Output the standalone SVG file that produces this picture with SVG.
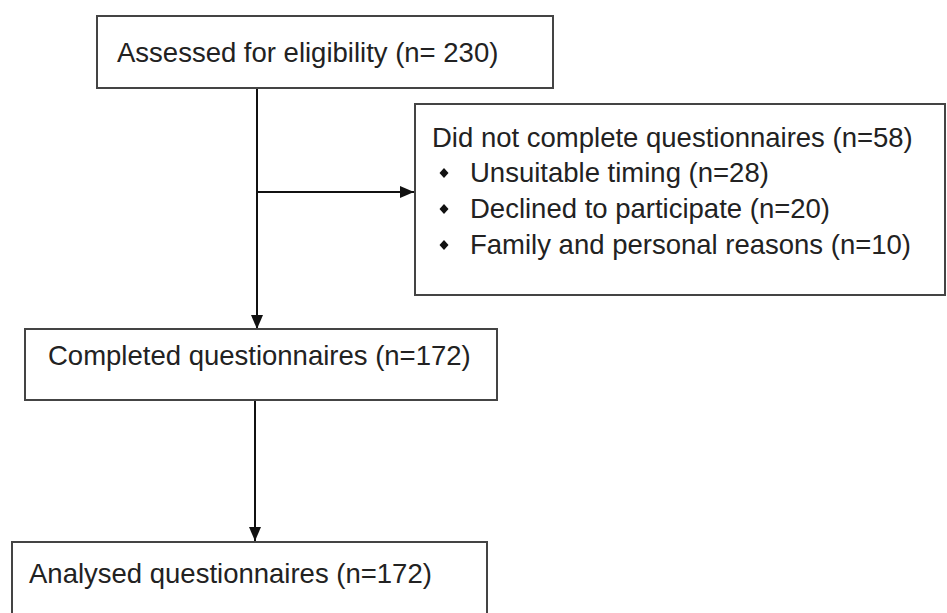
<svg xmlns="http://www.w3.org/2000/svg" width="947" height="613" viewBox="0 0 947 613">
<defs>
<style>
.box{fill:#fff;stroke:#444;stroke-width:2}
.t{font-family:"Liberation Sans",Arial,sans-serif;font-size:27.5px;fill:#222}
.c{stroke:#111;stroke-width:2;fill:none}
.b{fill:#111}
</style>
<marker id="ah" viewBox="0 0 14 12" refX="14" refY="6" markerWidth="14" markerHeight="12" markerUnits="userSpaceOnUse" orient="auto">
<path d="M0,0 L14,6 L0,12 Z" fill="#111"/>
</marker>
</defs>
<rect width="947" height="613" fill="#fff"/>
<g id="connectors">
<line class="c" x1="257" y1="88" x2="257" y2="329" marker-end="url(#ah)"/>
<line class="c" x1="257" y1="192" x2="414" y2="192" marker-end="url(#ah)"/>
<line class="c" x1="255" y1="401" x2="255" y2="541" marker-end="url(#ah)"/>
</g>
<g id="assessed">
<rect class="box" x="97" y="16" width="456" height="72"/>
<text class="t" x="117" y="62">Assessed for eligibility (n= 230)</text>
</g>
<g id="excluded">
<rect class="box" x="415" y="104" width="530" height="191"/>
<text class="t" x="432" y="147">Did not complete questionnaires (n=58)</text>
<path class="b" d="M439.5,173 l4.5,-5 l4.5,5 l-4.5,5 Z"/>
<text class="t" x="470" y="182">Unsuitable timing (n=28)</text>
<path class="b" d="M439.5,209 l4.5,-5 l4.5,5 l-4.5,5 Z"/>
<text class="t" x="470" y="218">Declined to participate (n=20)</text>
<path class="b" d="M439.5,245 l4.5,-5 l4.5,5 l-4.5,5 Z"/>
<text class="t" x="470" y="254">Family and personal reasons (n=10)</text>
</g>
<g id="completed">
<rect class="box" x="25" y="329" width="472" height="71"/>
<text class="t" x="48" y="365">Completed questionnaires (n=172)</text>
</g>
<g id="analysed">
<rect class="box" x="12" y="542" width="475" height="90"/>
<text class="t" x="29" y="583">Analysed questionnaires (n=172)</text>
</g>
</svg>
